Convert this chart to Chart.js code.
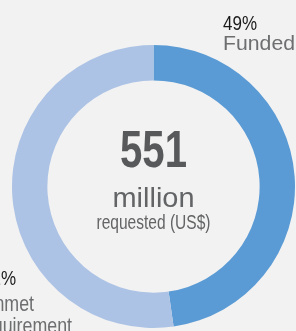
<!DOCTYPE html>
<html>
<head>
<meta charset="utf-8">
<script src="https://cdn.jsdelivr.net/npm/chart.js@4"></script>
<style>
  html, body { margin: 0; padding: 0; background: #f2f2f2; }
  #wrap { width: 296px; height: 331px; position: relative; }
  canvas { display: block; }
</style>
</head>
<body>
<div id="wrap"><canvas id="c" width="296" height="331"></canvas></div>
<script>
// Data (US$ million)
const categories = ["Funded", "Unmet requirement"];
const values = [263, 288];
const colors = ["#5b9bd5", "#adc3e5"];
const totalLabel = "551";
const percentLabels = ["49%", "51%"];

function fitText(ctx, text, x, y, targetW, size, weight, color, align) {
  ctx.save();
  ctx.font = weight + " " + size + "px 'Liberation Sans', Arial, sans-serif";
  ctx.fillStyle = color;
  ctx.textBaseline = "alphabetic";
  ctx.textAlign = "left";
  const w = ctx.measureText(text).width;
  const s = targetW / w;
  let x0 = x;
  if (align === "center") x0 = x - targetW / 2;
  else if (align === "right") x0 = x - targetW;
  ctx.translate(x0, y);
  ctx.scale(s, 1);
  ctx.fillText(text, 0, 0);
  ctx.restore();
}
function scaledText(ctx, text, x, y, scale, size, weight, color, align) {
  ctx.save();
  ctx.font = weight + " " + size + "px 'Liberation Sans', Arial, sans-serif";
  const w = ctx.measureText(text).width * scale;
  ctx.restore();
  fitText(ctx, text, x, y, w, size, weight, color, align);
}

const labelsPlugin = {
  id: "labels",
  afterDraw(chart) {
    const ctx = chart.ctx;
    const meta = chart.getDatasetMeta(0);
    const arc = meta.data[0];
    const cx = arc.x, cy = arc.y;
    // center text
    fitText(ctx, totalLabel, cx, cy - 20, 67, 51, "bold", "#58595b", "center");
    fitText(ctx, "million", cx, cy + 20, 82, 28, "normal", "#636466", "center");
    fitText(ctx, "requested (US$)", cx, cy + 42, 114, 21, "normal", "#636466", "center");
    // funded label
    fitText(ctx, percentLabels[0], 223, 30, 34, 21, "normal", "#1a1a1a", "left");
    fitText(ctx, categories[0], 223, 50, 72, 21, "normal", "#6d6e70", "left");
    // unmet label
    scaledText(ctx, percentLabels[1], 16, 285, 0.81, 21, "normal", "#1a1a1a", "right");
    scaledText(ctx, "Unmet", 34, 311, 0.81, 22, "normal", "#6d6e70", "right");
    scaledText(ctx, "requirement", 72, 333, 0.81, 22, "normal", "#6d6e70", "right");
  }
};

new Chart(document.getElementById("c"), {
  type: "doughnut",
  data: {
    labels: categories,
    datasets: [{
      data: values,
      backgroundColor: colors,
      borderWidth: 0,
      hoverOffset: 0
    }]
  },
  options: {
    responsive: false,
    animation: false,
    cutout: "75%",
    layout: { padding: { left: 12, right: 1, top: 45, bottom: 3 } },
    plugins: {
      legend: { display: false },
      tooltip: { enabled: false }
    },
    events: []
  },
  plugins: [labelsPlugin]
});
</script>
</body>
</html>
